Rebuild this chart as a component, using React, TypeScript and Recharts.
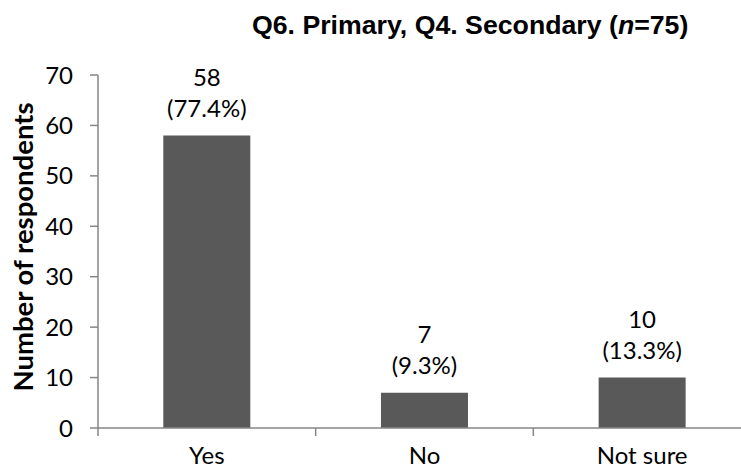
import React from 'react';
import { BarChart, Bar, XAxis, YAxis, LabelList } from 'recharts';

const categories = ['Yes', 'No', 'Not sure'];
const respondents = [58, 7, 10];
const shares = ['77.4%', '9.3%', '13.3%'];
const yTicks = [0, 10, 20, 30, 40, 50, 60, 70];

const data = categories.map((name, i) => ({
	name,
	count: respondents[i],
	share: shares[i],
}));

const AXIS = '#868686';
const BAR = '#595959';
const TICK_FONT = 'Lato, "Open Sans", sans-serif';
const X_TICK_MARGIN = 19;

// category name, plus a short tick on the left boundary of its band
function CategoryTick(props: any) {
	const { x, y, payload } = props;
	const axisY = Number(y) - X_TICK_MARGIN;
	const edge = Number(x) - Number(payload.offset || 0);
	return (
		<g>
			<line x1={edge} x2={edge} y1={axisY} y2={axisY + 8} stroke={AXIS} strokeWidth={1.5} />
			<text
				x={x}
				y={y}
				dy="0.71em"
				textAnchor="middle"
				fontFamily={TICK_FONT}
				fontSize={24}
				fill="#000"
			>
				{payload.value}
			</text>
		</g>
	);
}

// value on the first line, share in brackets underneath, both above the bar
function CountLabel(props: any) {
	const { x, y, width, index } = props;
	const cx = Number(x) + Number(width) / 2;
	const top = Number(y);
	return (
		<text textAnchor="middle" fontFamily={TICK_FONT} fontSize={24} fill="#000">
			<tspan x={cx} y={top - 50}>
				{respondents[index]}
			</tspan>
			<tspan x={cx} y={top - 19}>
				({shares[index]})
			</tspan>
		</text>
	);
}

export default function App() {
	return (
		<div style={{ position: 'absolute', left: 0, top: 0, width: 741, height: 470, background: '#fff' }}>
			<BarChart
				width={741}
				height={470}
				data={data}
				margin={{ top: 75, right: -10, left: 0, bottom: 0 }}
				barCategoryGap="30%"
			>
				<XAxis
					dataKey="name"
					height={42}
					tickSize={0}
					tickMargin={X_TICK_MARGIN}
					tickLine={false}
					axisLine={{ stroke: AXIS, strokeWidth: 1.5 }}
					tick={<CategoryTick />}
				/>
				<YAxis
					width={98}
					domain={[0, 70]}
					ticks={yTicks}
					interval={0}
					tickSize={8}
					tickMargin={17}
					axisLine={{ stroke: AXIS, strokeWidth: 1.5 }}
					tickLine={{ stroke: AXIS, strokeWidth: 1.5 }}
					tick={{ fontFamily: TICK_FONT, fontSize: 24, fill: '#000' }}
				/>
				<Bar dataKey="count" fill={BAR} isAnimationActive={false}>
					<LabelList dataKey="count" content={CountLabel} />
				</Bar>
			</BarChart>
			<svg
				width={741}
				height={470}
				style={{ position: 'absolute', left: 0, top: 0, pointerEvents: 'none' }}
			>
				<text
					x={252}
					y={34}
					fontFamily='"Liberation Sans", Arial, sans-serif'
					fontWeight="bold"
					fontSize={26.7}
					fill="#000"
				>
					Q6. Primary, Q4. Secondary (<tspan fontStyle="italic">n</tspan>=75)
				</text>
				<text
					transform="translate(33, 247) rotate(-90)"
					textAnchor="middle"
					fontFamily={TICK_FONT}
					fontWeight="bold"
					fontSize={27.5}
					fill="#000"
				>
					Number of respondents
				</text>
			</svg>
		</div>
	);
}
